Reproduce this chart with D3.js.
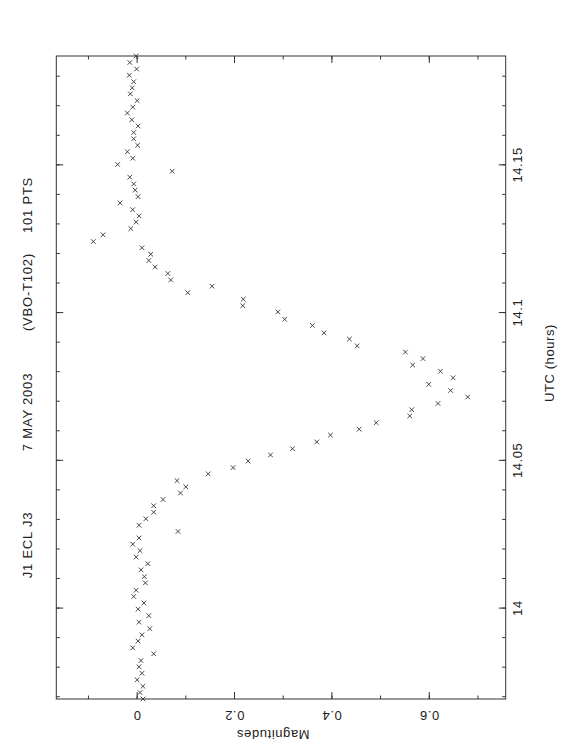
<!DOCTYPE html>
<html>
<head>
<meta charset="utf-8">
<script src="https://cdn.jsdelivr.net/npm/d3@7"></script>
<style>
  body { margin: 0; background: #fff; }
  svg { display: block; }
  text { font-family: "Liberation Sans", Arial, sans-serif; fill: #222; }
</style>
</head>
<body>
<svg id="chart" width="562" height="756"></svg>
<script>
// Données (UTC en heures, magnitude différentielle)
const utcHours = [
  13.9694, 13.9716, 13.9737, 13.9759, 13.9781, 13.9803, 13.9824, 13.9847, 13.9867, 13.9890,
  13.9911, 13.9932, 13.9954, 13.9976, 13.9998, 14.0019, 14.0041, 14.0062, 14.0087, 14.0108,
  14.0131, 14.0152, 14.0174, 14.0196, 14.0218, 14.0239, 14.0261, 14.0282, 14.0304, 14.0326,
  14.0348, 14.0369, 14.0391, 14.0412, 14.0433, 14.0456, 14.0477, 14.0499, 14.0520, 14.0541,
  14.0564, 14.0587, 14.0607, 14.0629, 14.0652, 14.0673, 14.0694, 14.0716, 14.0738, 14.0759,
  14.0781, 14.0803, 14.0824, 14.0846, 14.0868, 14.0889, 14.0912, 14.0933, 14.0958, 14.0979,
  14.1004, 14.1025, 14.1047, 14.1069, 14.1091, 14.1112, 14.1134, 14.1156, 14.1178, 14.1199,
  14.1221, 14.1242, 14.1265, 14.1286, 14.1308, 14.1329, 14.1350, 14.1373, 14.1394, 14.1416,
  14.1437, 14.1460, 14.1480, 14.1503, 14.1524, 14.1546, 14.1568, 14.1590, 14.1611, 14.1633,
  14.1654, 14.1677, 14.1697, 14.1719, 14.1742, 14.1762, 14.1783, 14.1805, 14.1826, 14.1848,
  14.1870
]
const magnitudes = [
  0.013, 0.007, 0.013, 0.001, 0.011, 0.005, 0.009, 0.035, -0.008, 0.003,
  0.011, 0.027, 0.005, 0.025, 0.003, 0.015, -0.006, -0.001, 0.018, 0.016,
  0.009, 0.023, -0.001, 0.007, -0.008, 0.005, 0.085, 0.005, 0.019, 0.035,
  0.035, 0.054, 0.090, 0.101, 0.083, 0.147, 0.198, 0.229, 0.275, 0.320,
  0.370, 0.398, 0.457, 0.492, 0.561, 0.565, 0.619, 0.680, 0.645, 0.600,
  0.650, 0.624, 0.567, 0.588, 0.552, 0.453, 0.437, 0.385, 0.361, 0.304,
  0.290, 0.218, 0.219, 0.105, 0.155, 0.070, 0.064, 0.038, 0.025, 0.029,
  0.011, -0.089, -0.069, -0.012, -0.001, 0.005, -0.008, -0.034, 0.003, -0.003,
  -0.006, -0.014, 0.073, -0.039, -0.008, -0.019, 0.002, -0.006, -0.006, 0.003,
  -0.010, -0.019, -0.008, 0.001, -0.013, -0.009, -0.006, -0.015, 0.000, -0.014,
  -0.001
]

// Graduations et textes
const timeTicks = [14, 14.05, 14.1, 14.15]
const timeTickLabels = ['14', '14.05', '14.1', '14.15']
const magTicks = [0, 0.2, 0.4, 0.6]
const magTickLabels = ['0', '0.2', '0.4', '0.6']
const magLimits = [-0.165, 0.758]
const titleParts = ['J1 ECL J3', '7 MAY 2003', '(VBO-T102)', '101 PTS']
const xLabel = 'UTC (hours)'
const yLabel = 'Magnitudes'

// Mise en page (repère non tourné : la page est ensuite pivotée de -90°)
const pageW = 756
const plotLeft = 57, plotRight = 700
const plotTop = 56.3, plotBottom = 505.7
const majorTick = 7, minorTick = 3.5
const titleX = [211, 344, 464, 551]
const fontSize = 13

const svg = d3.select('#chart')
const g = svg.append('g')
  .attr('transform', 'translate(0,' + pageW + ') rotate(-90)')

const x = d3.scaleLinear().domain(d3.extent(utcHours)).range([plotLeft, plotRight])
const y = d3.scaleLinear().domain(magLimits).range([plotTop, plotBottom])

// Axes : graduations majeures et mineures vers l'intérieur, sur les 4 côtés
function addAxis(axisFn, scale, tx, ty, values, size, labels) {
  const axis = axisFn(scale)
    .tickValues(values)
    .tickSizeInner(-size)
    .tickSizeOuter(0)
    .tickPadding(7.5)
    .tickFormat(labels ? (d, i) => labels[i] : '')
  const ag = g.append('g')
    .attr('transform', 'translate(' + tx + ',' + ty + ')')
    .call(axis)
  ag.select('.domain').remove()
  ag.selectAll('.tick line').attr('stroke', '#333').attr('stroke-width', 1)
  ag.selectAll('text')
    .attr('font-family', '"Liberation Sans", Arial, sans-serif')
    .attr('font-size', fontSize)
    .attr('fill', '#222')
    .attr('letter-spacing', 0.6)
  return ag
}

addAxis(d3.axisBottom, x, 0, plotBottom, x.ticks(20), minorTick)
addAxis(d3.axisTop, x, 0, plotTop, x.ticks(20), minorTick)
addAxis(d3.axisBottom, x, 0, plotBottom, timeTicks, majorTick, timeTickLabels)
addAxis(d3.axisTop, x, 0, plotTop, timeTicks, majorTick)

addAxis(d3.axisLeft, y, plotLeft, 0, y.ticks(10), minorTick)
addAxis(d3.axisRight, y, plotRight, 0, y.ticks(10), minorTick)
const magAxis = addAxis(d3.axisLeft, y, plotLeft, 0, magTicks, majorTick, magTickLabels)
addAxis(d3.axisRight, y, plotRight, 0, magTicks, majorTick)

// Étiquettes des magnitudes parallèles à l'axe
magAxis.selectAll('.tick text')
  .attr('x', null)
  .attr('text-anchor', 'middle')
  .attr('dy', '0.35em')
  .attr('transform', 'translate(-17,0) rotate(-90)')

// Cadre
g.append('rect')
  .attr('x', plotLeft)
  .attr('y', plotTop)
  .attr('width', plotRight - plotLeft)
  .attr('height', plotBottom - plotTop)
  .attr('fill', 'none')
  .attr('stroke', '#333')
  .attr('stroke-width', 1)

// Points en croix
const s = 2.3
g.append('g')
  .selectAll('path')
  .data(utcHours.map((t, i) => ({ t: t, m: magnitudes[i] })))
  .enter()
  .append('path')
  .attr('transform', d => 'translate(' + x(d.t) + ',' + y(d.m) + ')')
  .attr('d', 'M' + (-s) + ',' + (-s) + 'L' + s + ',' + s + 'M' + (-s) + ',' + s + 'L' + s + ',' + (-s))
  .attr('stroke', '#333')
  .attr('stroke-width', 0.9)
  .attr('fill', 'none')

// Titre
g.append('g')
  .selectAll('text')
  .data(titleParts)
  .enter()
  .append('text')
  .attr('x', (d, i) => titleX[i])
  .attr('y', 32)
  .attr('text-anchor', 'middle')
  .attr('font-size', fontSize)
  .attr('letter-spacing', 0.8)
  .text(d => d)

// Titres des axes
g.append('text')
  .attr('x', 393)
  .attr('y', 554)
  .attr('text-anchor', 'middle')
  .attr('font-size', fontSize)
  .attr('letter-spacing', 0.6)
  .text(xLabel)

g.append('text')
  .attr('transform', 'translate(21,273) rotate(-90)')
  .attr('text-anchor', 'middle')
  .attr('dy', '0.35em')
  .attr('font-size', fontSize)
  .attr('letter-spacing', 0.6)
  .text(yLabel)
</script>
</body>
</html>
